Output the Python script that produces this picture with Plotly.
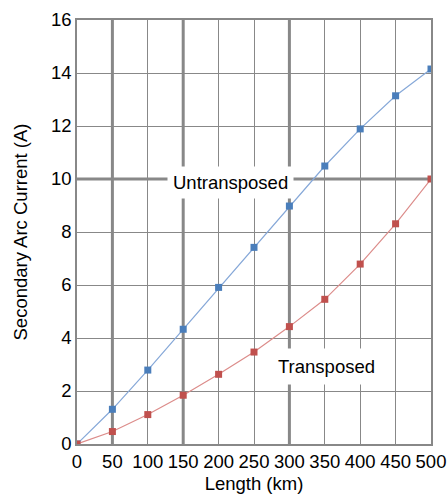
import plotly.graph_objects as go

# Line length (km) and secondary arc current (A)
length_km = [0, 50, 100, 150, 200, 250, 300, 350, 400, 450, 500]
untransposed = [0.0, 1.31, 2.79, 4.33, 5.91, 7.42, 8.98, 10.49, 11.89, 13.14, 14.15]
transposed = [0.0, 0.47, 1.11, 1.84, 2.63, 3.47, 4.43, 5.46, 6.79, 8.31, 10.0]

x_ticks = [0, 50, 100, 150, 200, 250, 300, 350, 400, 450, 500]
y_ticks = [0, 2, 4, 6, 8, 10, 12, 14, 16]

# Emphasised grid lines
heavy_x = [50, 150, 300]
heavy_y = [10]

GRID = "#888888"
FONT = "Liberation Sans, Arial, sans-serif"
FS = 18.5

fig = go.Figure()

fig.add_trace(go.Scatter(
    x=length_km, y=untransposed, mode="lines+markers", name="Untransposed",
    line=dict(color="#86a8d8", width=1.2),
    marker=dict(symbol="square", size=7, color="#4a7ebb"),
))
fig.add_trace(go.Scatter(
    x=length_km, y=transposed, mode="lines+markers", name="Transposed",
    line=dict(color="#dc8c8a", width=1.2),
    marker=dict(symbol="square", size=7, color="#c0504d"),
))

shapes = []
for xv in heavy_x:
    shapes.append(dict(type="line", xref="x", yref="paper", x0=xv, x1=xv, y0=0, y1=1,
                       line=dict(color=GRID, width=3), layer="below"))
for yv in heavy_y:
    shapes.append(dict(type="line", xref="paper", yref="y", x0=0, x1=1, y0=yv, y1=yv,
                       line=dict(color=GRID, width=3), layer="below"))

annotations = [
    dict(x=217, y=9.85, xref="x", yref="y", text="Untransposed", showarrow=False,
         font=dict(family=FONT, size=FS, color="black"), bgcolor="white",
         borderpad=5),
    dict(x=352, y=2.94, xref="x", yref="y", text="Transposed", showarrow=False,
         font=dict(family=FONT, size=FS, color="black"), bgcolor="white",
         borderpad=7),
]

fig.update_layout(
    width=448, height=497,
    margin=dict(l=77, r=17, t=20, b=53),
    paper_bgcolor="white", plot_bgcolor="white",
    showlegend=False,
    font=dict(family=FONT, size=FS, color="black"),
    shapes=shapes,
    annotations=annotations,
    xaxis=dict(
        range=[0, 500], tickvals=x_ticks, ticktext=[str(v) for v in x_ticks],
        showgrid=True, gridcolor=GRID, gridwidth=1.3, zeroline=False,
        showline=True, linecolor=GRID, linewidth=2, mirror=True,
        ticks="", tickfont=dict(size=FS), automargin=False,
        title=dict(text="Length (km)", font=dict(size=FS), standoff=6),
    ),
    yaxis=dict(
        range=[0, 16], tickvals=y_ticks, ticktext=[str(v) for v in y_ticks],
        showgrid=True, gridcolor=GRID, gridwidth=1.3, zeroline=False,
        showline=True, linecolor=GRID, linewidth=1.5, mirror=True,
        ticks="", tickfont=dict(size=FS), automargin=False,
        title=dict(text="Secondary Arc Current (A)", font=dict(size=FS), standoff=18),
    ),
)

fig.write_html("out.html")
